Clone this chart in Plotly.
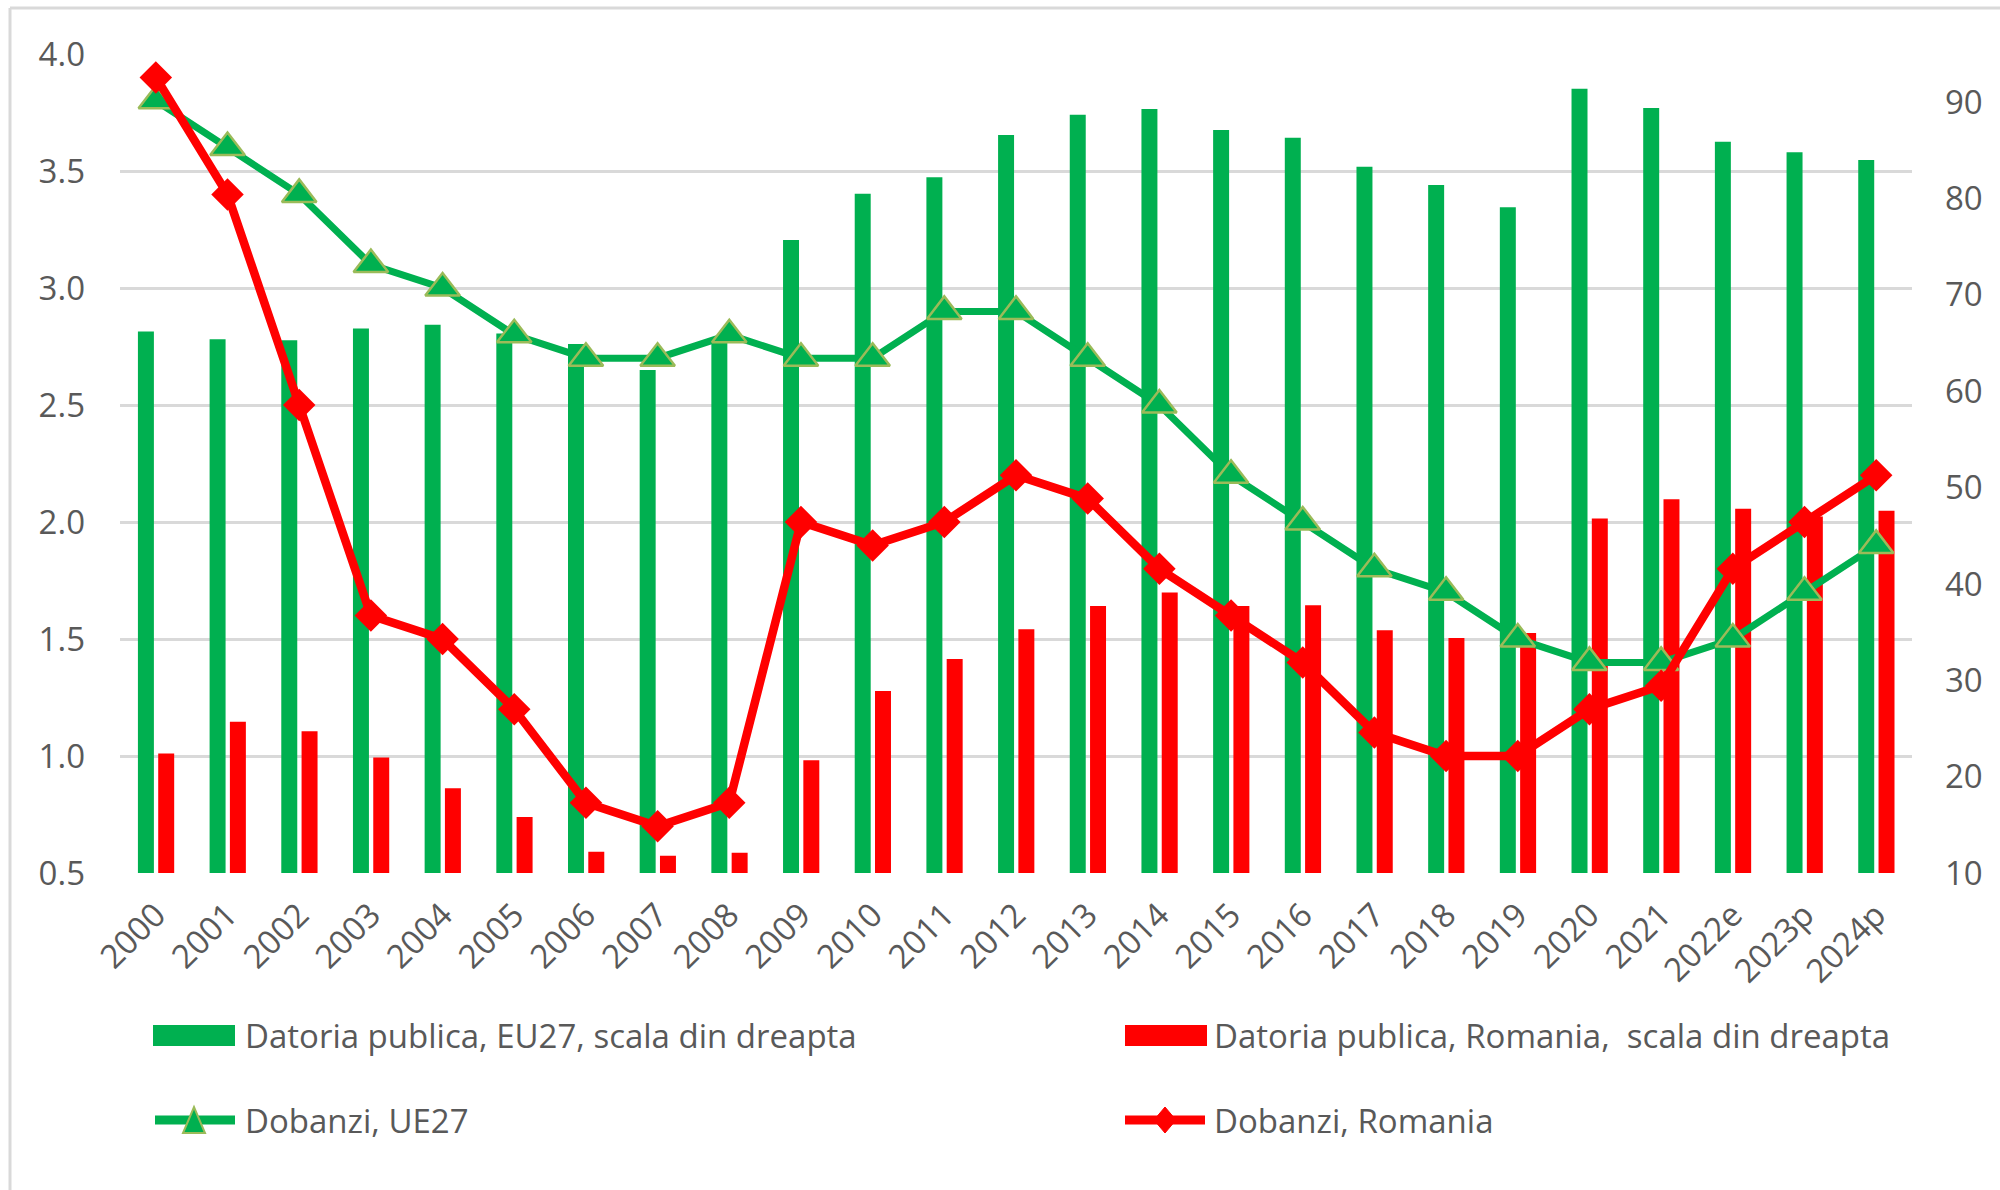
import plotly.graph_objects as go

years = ["2000", "2001", "2002", "2003", "2004", "2005", "2006", "2007", "2008",
         "2009", "2010", "2011", "2012", "2013", "2014", "2015", "2016", "2017",
         "2018", "2019", "2020", "2021", "2022e", "2023p", "2024p"]

# Public debt (% GDP), right scale
debt_eu27 = [66.2, 65.4, 65.3, 66.5, 66.9, 66.0, 64.9, 62.2, 65.0, 75.7, 80.5, 82.2,
             86.6, 88.7, 89.3, 87.1, 86.3, 83.3, 81.4, 79.1, 91.4, 89.4, 85.9, 84.8, 84.0]
debt_ro = [22.4, 25.7, 24.7, 22.0, 18.8, 15.8, 12.2, 11.8, 12.1, 21.7, 28.9, 32.2,
           35.3, 37.7, 39.1, 37.7, 37.8, 35.2, 34.4, 34.9, 46.8, 48.8, 47.8, 47.0, 47.6]

# Interest (% GDP), left scale
int_eu27 = [3.8, 3.6, 3.4, 3.1, 3.0, 2.8, 2.7, 2.7, 2.8, 2.7, 2.7, 2.9, 2.9, 2.7,
            2.5, 2.2, 2.0, 1.8, 1.7, 1.5, 1.4, 1.4, 1.5, 1.7, 1.9]
int_ro = [3.9, 3.4, 2.5, 1.6, 1.5, 1.2, 0.8, 0.7, 0.8, 2.0, 1.9, 2.0, 2.2, 2.1,
          1.8, 1.6, 1.4, 1.1, 1.0, 1.0, 1.2, 1.3, 1.8, 2.0, 2.2]

legend_labels = ["Datoria publica, EU27, scala din dreapta",
                 "Datoria publica, Romania,  scala din dreapta",
                 "Dobanzi, UE27",
                 "Dobanzi, Romania"]

GREEN = "#00B050"
RED = "#FF0000"
OLIVE = "#9BBB59"
GRID = "#D9D9D9"
TXT = "#595959"
FONT = "Open Sans"

W, H = 2000, 1190
ML, MR, MT, MB = 120, 88, 54, 317
PW, PH = W - ML - MR, H - MT - MB


def px(x):
    return (x - ML) / PW


def py(y):
    return (H - MB - y) / PH


fig = go.Figure()

fig.add_trace(go.Bar(x=years, y=debt_eu27, name=legend_labels[0], marker_color=GREEN,
                     marker_line_width=0, width=0.223, offset=-0.25, yaxis="y",
                     showlegend=False))
fig.add_trace(go.Bar(x=years, y=debt_ro, name=legend_labels[1], marker_color=RED,
                     marker_line_width=0, width=0.223, offset=0.033, yaxis="y",
                     showlegend=False))
fig.add_trace(go.Scatter(x=years, y=int_eu27, name=legend_labels[2], mode="lines+markers",
                         line=dict(color=GREEN, width=7),
                         marker=dict(symbol="triangle-up", size=30, color=GREEN,
                                     line=dict(color=OLIVE, width=2.5)),
                         yaxis="y2", showlegend=False))
fig.add_trace(go.Scatter(x=years, y=int_ro, name=legend_labels[3], mode="lines+markers",
                         line=dict(color=RED, width=8.5),
                         marker=dict(symbol="diamond", size=25, color=RED),
                         yaxis="y2", showlegend=False))

shapes = []
# chart border (left and top visible)
shapes.append(dict(type="line", xref="paper", yref="paper", x0=px(10), x1=px(10),
                   y0=py(8), y1=py(H + 5), line=dict(color=GRID, width=3), layer="below"))
shapes.append(dict(type="line", xref="paper", yref="paper", x0=px(10), x1=px(W + 5),
                   y0=py(8), y1=py(8), line=dict(color=GRID, width=3), layer="below"))

# custom legend
row1, row2 = 1035.5, 1120
col1, col2 = 153, 1125
for cx, col in [(col1, GREEN), (col2, RED)]:
    shapes.append(dict(type="rect", xref="paper", yref="paper", x0=px(cx), x1=px(cx + 82),
                       y0=py(row1 - 10.5), y1=py(row1 + 10.5), fillcolor=col,
                       line=dict(width=0)))
for cx, col in [(col1 - 2, GREEN), (col2 - 4, RED)]:
    shapes.append(dict(type="line", xref="paper", yref="paper", x0=px(cx + 4), x1=px(cx + 84),
                       y0=py(row2), y1=py(row2), line=dict(color=col, width=9)))
# legend markers (pixel-sized)
shapes.append(dict(type="path", xref="paper", yref="paper", xsizemode="pixel",
                   ysizemode="pixel", xanchor=px(col1 + 41), yanchor=py(row2),
                   path="M -11 -13 L 11 -13 L 0 13 Z", fillcolor=GREEN,
                   line=dict(color=OLIVE, width=2)))
shapes.append(dict(type="path", xref="paper", yref="paper", xsizemode="pixel",
                   ysizemode="pixel", xanchor=px(col2 + 40), yanchor=py(row2),
                   path="M 0 -13 L 11 0 L 0 13 L -11 0 Z", fillcolor=RED,
                   line=dict(color=RED, width=1)))

annotations = []
for (tx, ty, label) in [(243, row1, legend_labels[0]), (1212, row1, legend_labels[1]),
                        (243, row2, legend_labels[2]), (1212, row2, legend_labels[3])]:
    annotations.append(dict(x=px(tx), y=py(ty), xref="paper", yref="paper", text=label,
                            showarrow=False, xanchor="left", yanchor="middle",
                            font=dict(family=FONT, size=33, color=TXT)))

fig.update_layout(
    width=W, height=H,
    margin=dict(l=ML, r=MR, t=MT, b=MB),
    paper_bgcolor="white", plot_bgcolor="white",
    barmode="overlay",
    showlegend=False,
    font=dict(family=FONT, color=TXT, size=33),
    xaxis=dict(type="category", range=[-0.5, 24.5], tickangle=-45, showgrid=False,
               showline=False, ticks="", tickfont=dict(family=FONT, size=33, color=TXT),
               ticklabelstandoff=15, fixedrange=True),
    yaxis=dict(side="right", range=[10, 95], tick0=10, dtick=10, showgrid=False,
               zeroline=False, showline=False, ticks="",
               tickfont=dict(family=FONT, size=33, color=TXT), ticklabelstandoff=32),
    yaxis2=dict(side="left", overlaying="y", range=[0.5, 4.0], tick0=0.5, dtick=0.5,
                tickformat=".1f", showgrid=True, gridcolor=GRID, gridwidth=2.5,
                zeroline=False, showline=False, ticks="",
                tickfont=dict(family=FONT, size=33, color=TXT), ticklabelstandoff=34),
    shapes=shapes,
    annotations=annotations,
)

fig.write_html("out.html", config={"displayModeBar": False},
               post_script="document.body.style.margin='0';document.body.style.overflow='hidden';")
